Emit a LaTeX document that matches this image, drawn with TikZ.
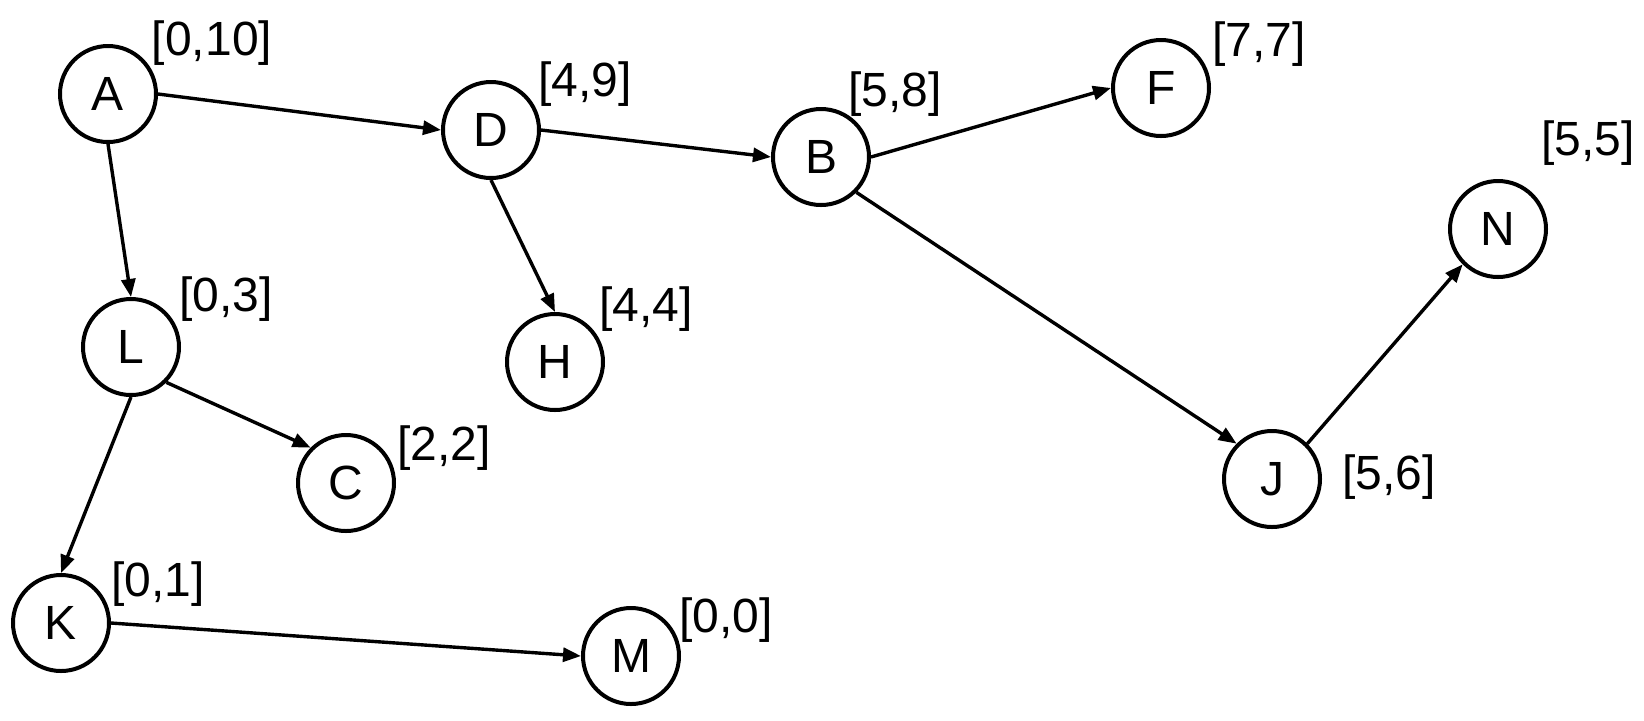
\documentclass[tikz,border=0pt]{standalone}
\usepackage{fontspec}
\setmainfont{Liberation Sans}
\usetikzlibrary{arrows.meta}
\begin{document}
\begin{tikzpicture}[x=0.5pt,y=-0.5pt,
  vtx/.style={draw,circle,line width=2pt,minimum size=48pt,inner sep=0pt,font=\fontsize{24}{28}\selectfont},
  lbl/.style={inner sep=0pt,font=\fontsize{24}{28}\selectfont},
  edge/.style={line width=1.7pt,-{Triangle[length=9pt,width=7pt]}}]
\useasboundingbox (0,0) rectangle (1644,720);
\node[vtx] (A) at (108,94) {A};
\node[vtx] (D) at (491,130) {D};
\node[vtx] (B) at (821,157) {B};
\node[vtx] (F) at (1161,88) {F};
\node[vtx] (N) at (1498,229) {N};
\node[vtx] (L) at (131,347) {L};
\node[vtx] (H) at (555,362) {H};
\node[vtx] (C) at (346,483) {C};
\node[vtx] (J) at (1272,479) {J};
\node[vtx] (K) at (61,623) {K};
\node[vtx] (M) at (631,656) {M};
\node[lbl] (lA) at (212,43) {[0,10]};
\node[lbl] (lD) at (585,84) {[4,9]};
\node[lbl] (lB) at (895,94) {[5,8]};
\node[lbl] (lF) at (1259,44) {[7,7]};
\node[lbl] (lN) at (1588,143) {[5,5]};
\node[lbl] (lL) at (226,299) {[0,3]};
\node[lbl] (lH) at (646,309) {[4,4]};
\node[lbl] (lC) at (444,448) {[2,2]};
\node[lbl] (lJ) at (1389,477) {[5,6]};
\node[lbl] (lK) at (158,584) {[0,1]};
\node[lbl] (lM) at (726,620) {[0,0]};
\draw[edge] (A.east) -- (D.west);
\draw[edge] (A.south) -- (L.north);
\draw[edge] (D.east) -- (B.west);
\draw[edge] (D.south) -- (H.north);
\draw[edge] (B.east) -- (F.west);
\draw[edge] (B.south east) -- (J.north west);
\draw[edge] (J.north east) -- (N.south west);
\draw[edge] (L.south east) -- (C.north west);
\draw[edge] (L.south) -- (K.north);
\draw[edge] (K.east) -- (M.west);
\end{tikzpicture}
\end{document}
